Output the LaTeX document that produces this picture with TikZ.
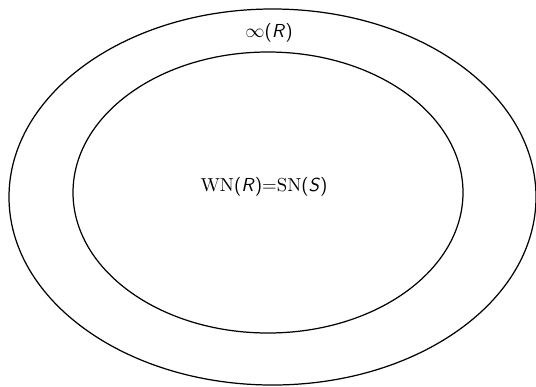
\documentclass[tikz,border=0pt]{standalone}
\usepackage{tikz}

\begin{document}
\begin{tikzpicture}[
  x=0.02cm, y=-0.02cm,
  set/.style={draw=black, line width=0.7pt},
  lbl/.style={font=\fontsize{10.7}{13}\selectfont, inner sep=1pt}
]
\useasboundingbox (0,0) rectangle (536,386);
\clip (0,0) rectangle (536,386);
% outer and inner sets
\draw[set] (272.5,197) ellipse [x radius=263.5, y radius=188];
\draw[set] (268,192.5) ellipse [x radius=195, y radius=140.5];
\node[lbl] (inf) at (269,33) {$\infty$\textsf{(\textit{R})}};
\node[lbl] (eq) at (264,187) {WN\textsf{(\textit{R})}=SN\textsf{(\textit{S})}};
\end{tikzpicture}
\end{document}
